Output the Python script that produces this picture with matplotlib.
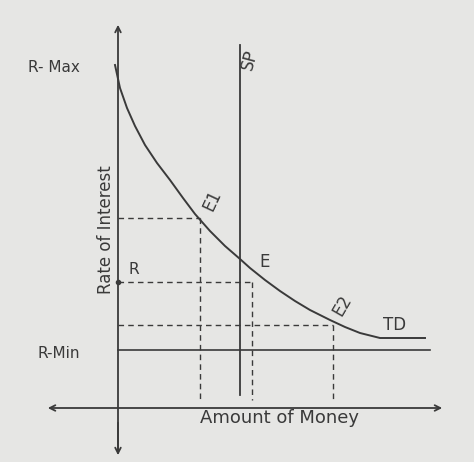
import matplotlib
matplotlib.use("Agg")
from matplotlib import pyplot as plt

# hand-drawn sketch, coordinates in picture pixels (y downward)
curve_x = [115, 120, 127, 135, 145, 157, 170, 183, 195, 210, 225, 240, 250,
           265, 280, 295, 310, 330, 345, 360, 372, 380, 425]
curve_y = [65, 88, 108, 126, 145, 163, 180, 198, 214, 231, 246, 259, 268,
           280, 291, 301, 310, 320, 327, 333, 336, 338, 338]
dash_levels = [218, 282, 325]
dash_ends = [200, 252, 333]
labels = ["R- Max", "R", "R-Min"]

ink = "#3a3a3a"
fig = plt.figure(figsize=(4.74, 4.62), dpi=100, facecolor="#e6e6e4")
ax = fig.add_axes([0, 0, 1, 1])
ax.set_facecolor("#e6e6e4")
ax.set_xlim(0, 474)
ax.set_ylim(462, 0)
ax.axis("off")

# axes with arrows
ax.annotate("", xy=(118, 22), xytext=(118, 455),
            arrowprops=dict(arrowstyle="->", color=ink, lw=1.3))
ax.annotate("", xy=(118, 458), xytext=(118, 420),
            arrowprops=dict(arrowstyle="->", color=ink, lw=1.3))
ax.annotate("", xy=(445, 408), xytext=(45, 408),
            arrowprops=dict(arrowstyle="<->", color=ink, lw=1.3))

ax.plot(curve_x, curve_y, color=ink, lw=1.4)
ax.plot([240, 240], [45, 395], color=ink, lw=1.3)     # SP
ax.plot([118, 430], [350, 350], color=ink, lw=1.2)    # R-Min
for yv, xe in zip(dash_levels, dash_ends):
    ax.plot([118, xe], [yv, yv], color=ink, lw=1, ls=(0, (4, 3)))
    ax.plot([xe, xe], [yv, 400], color=ink, lw=1, ls=(0, (4, 3)))
ax.plot([118], [282], "o", color=ink, ms=3)

ax.text(28, 68, labels[0], fontsize=11, color=ink, va="center")
ax.text(128, 270, labels[1], fontsize=11, color=ink, va="center")
ax.text(38, 353, labels[2], fontsize=11, color=ink, va="center")
ax.text(106, 230, "Rate of Interest", fontsize=12, color=ink, rotation=90,
        ha="center", va="center")
ax.text(280, 418, "Amount of Money", fontsize=13, color=ink, ha="center", va="center")
ax.text(212, 200, "E1", fontsize=12, color=ink, rotation=65, ha="center", va="center")
ax.text(265, 262, "E", fontsize=12, color=ink, ha="center", va="center")
ax.text(342, 305, "E2", fontsize=12, color=ink, rotation=60, ha="center", va="center")
ax.text(395, 325, "TD", fontsize=12, color=ink, ha="center", va="center")
ax.text(250, 60, "SP", fontsize=12, color=ink, rotation=75, ha="center", va="center")

fig.savefig("out.png", dpi=100, facecolor=fig.get_facecolor())
